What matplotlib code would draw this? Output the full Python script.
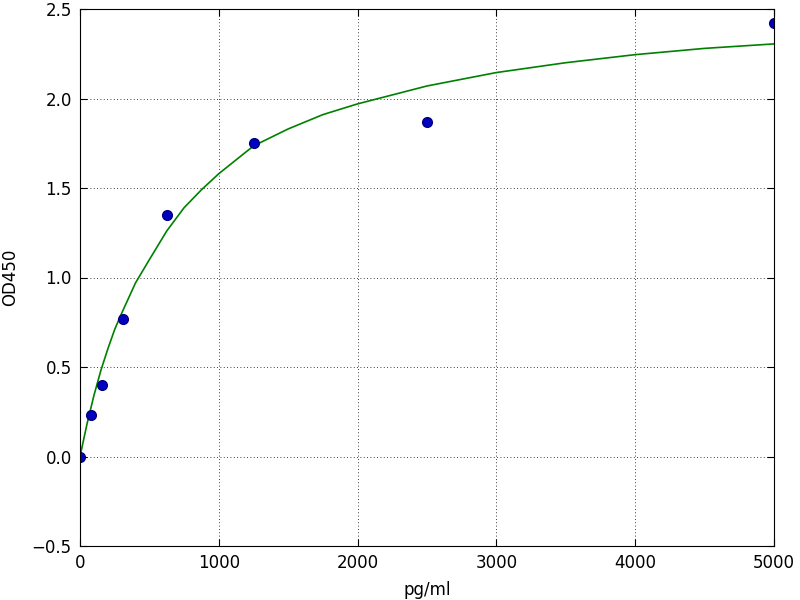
import matplotlib
matplotlib.use('Agg')
import matplotlib.pyplot as plt

# standard points
conc = [0, 78, 156, 312, 625, 1250, 2500, 5000]
od = [0.0, 0.23, 0.40, 0.77, 1.35, 1.75, 1.87, 2.42]

# fitted curve
fit_x = [0, 25, 50, 75, 100, 150, 200, 250, 300, 400, 500, 625, 750, 875,
         1000, 1250, 1500, 1750, 2000, 2500, 3000, 3500, 4000, 4500, 5000]
fit_y = [0.0, 0.09, 0.18, 0.26, 0.34, 0.48, 0.60, 0.71, 0.80, 0.97, 1.10,
         1.26, 1.39, 1.49, 1.58, 1.735, 1.83, 1.91, 1.97, 2.07, 2.145,
         2.20, 2.245, 2.28, 2.305]

fig = plt.figure(figsize=(8, 6), dpi=100)
ax = fig.add_axes([0.1, 0.09, 0.8675, 0.895])

ax.plot(fit_x, fit_y, color=(0, 0.5, 0), lw=1.2)
ax.plot(conc, od, 'o', color='#0000bf', mec='#00007f', ms=7)

ax.set_xlim(0, 5000)
ax.set_ylim(-0.5, 2.5)
ax.set_xticks([0, 1000, 2000, 3000, 4000, 5000])
ax.set_yticks([-0.5, 0.0, 0.5, 1.0, 1.5, 2.0, 2.5])
ax.set_yticklabels(['\u22120.5', '0.0', '0.5', '1.0', '1.5', '2.0', '2.5'])
ax.tick_params(direction='in', top=True, right=True, labelsize=12, length=5, pad=6)
ax.grid(True, color='black', linestyle=(0, (1, 3)), lw=0.6)
ax.set_xlabel('pg/ml', fontsize=12, labelpad=6)
ax.set_ylabel('OD450', fontsize=12, labelpad=9)

fig.savefig('out.png', dpi=100)
